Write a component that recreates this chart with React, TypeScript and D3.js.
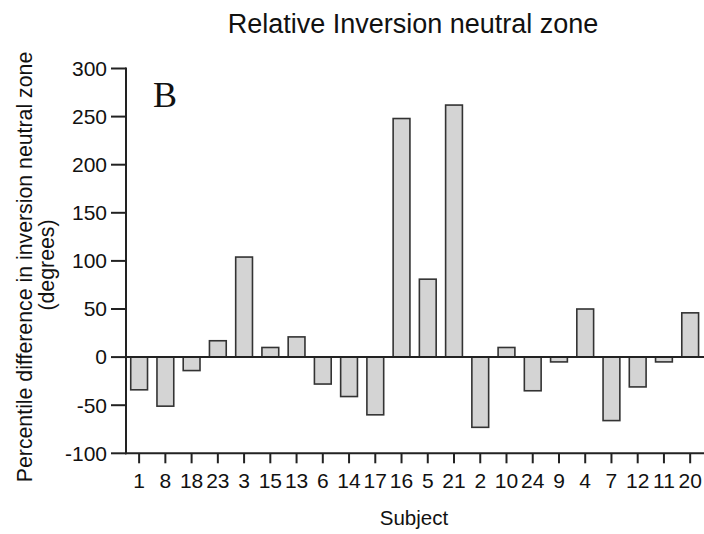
import React from "react";
import * as d3 from "d3";

const subjects = ["1","8","18","23","3","15","13","6","14","17","16","5","21","2","10","24","9","4","7","12","11","20"];
const values = [-34,-51,-14,17,104,10,21,-28,-41,-60,248,81,262,-73,10,-35,-5,50,-66,-31,-5,46];
const yTicks = [-100,-50,0,50,100,150,200,250,300];

const W = 704, H = 534;
const left = 126, right = 703.3, top = 68.5, bottom = 453.3;
const font = "Arial, 'Liberation Sans', Helvetica, sans-serif";

export default function App() {
  const x = d3.scaleBand<string>().domain(subjects).range([left, right]).paddingInner(0.36).paddingOuter(0.18);
  const y = d3.scaleLinear().domain([-100, 300]).range([bottom, top]);
  const y0 = y(0);
  return (
    <svg width={W} height={H} style={{ position: "absolute", left: 0, top: 0, background: "#fff" }} fontFamily={font}>
      <text x={413} y={33} fontSize={27} textAnchor="middle" fill="#111">Relative Inversion neutral zone</text>
      <text x={153} y={107} fontSize={36} fontFamily="'Liberation Serif', 'Times New Roman', serif" fill="#111">B</text>
      {subjects.map((s, i) => {
        const v = values[i];
        const yy = Math.min(y(v), y0);
        const h = Math.abs(y(v) - y0);
        return <rect key={s} x={x(s)!} y={yy} width={x.bandwidth()} height={h} fill="#d4d4d4" stroke="#333" strokeWidth={1.6} />;
      })}
      <line x1={left} x2={W} y1={y0} y2={y0} stroke="#222" strokeWidth={2} />
      <line x1={left} x2={left} y1={top - 1} y2={bottom + 1} stroke="#222" strokeWidth={2} />
      <line x1={left - 1} x2={W} y1={bottom} y2={bottom} stroke="#222" strokeWidth={2} />
      {yTicks.map(t => (
        <g key={t}>
          <line x1={111} x2={left} y1={y(t)} y2={y(t)} stroke="#222" strokeWidth={2} />
          <text x={107} y={y(t)} dy="0.35em" fontSize={21} textAnchor="end" fill="#111">{t}</text>
        </g>
      ))}
      {subjects.map(s => {
        const cx = x(s)! + x.bandwidth() / 2;
        return (
          <g key={"t" + s}>
            <line x1={cx} x2={cx} y1={bottom} y2={bottom + 10} stroke="#222" strokeWidth={2} />
            <text x={cx} y={488} fontSize={21} textAnchor="middle" fill="#111">{s}</text>
          </g>
        );
      })}
      <text x={414} y={525} fontSize={20.5} textAnchor="middle" fill="#111">Subject</text>
      <g transform="translate(25,267) rotate(-90)">
        <text x={0} y={0} dy="0.35em" fontSize={21.3} textAnchor="middle" fill="#111">Percentile difference in inversion neutral zone</text>
      </g>
      <g transform="translate(47,265) rotate(-90)">
        <text x={0} y={0} dy="0.35em" fontSize={21.3} textAnchor="middle" fill="#111">(degrees)</text>
      </g>
    </svg>
  );
}
